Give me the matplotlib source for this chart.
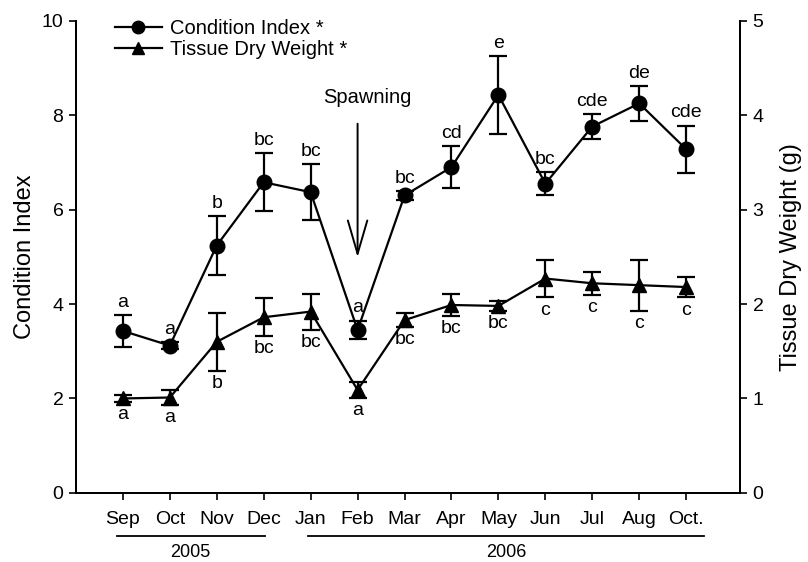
import matplotlib
matplotlib.use("Agg")
import matplotlib.pyplot as plt
from matplotlib.lines import Line2D

plt.rcParams['font.family'] = ['Liberation Sans', 'DejaVu Sans']

months = ["Sep", "Oct", "Nov", "Dec", "Jan", "Feb", "Mar", "Apr", "May", "Jun", "Jul", "Aug", "Oct."]

# Condition Index (left axis)
ci_mean = [3.43, 3.12, 5.24, 6.58, 6.37, 3.45, 6.30, 6.90, 8.43, 6.55, 7.76, 8.25, 7.28]
ci_err = [0.33, 0.08, 0.62, 0.61, 0.60, 0.20, 0.10, 0.45, 0.82, 0.25, 0.27, 0.37, 0.50]
ci_letters = ["a", "a", "b", "bc", "bc", "a", "bc", "cd", "e", "bc", "cde", "de", "cde"]

# Tissue Dry Weight (g) (right axis)
tdw_mean = [1.00, 1.01, 1.60, 1.86, 1.92, 1.09, 1.83, 1.99, 1.98, 2.27, 2.22, 2.20, 2.18]
tdw_err = [0.04, 0.08, 0.31, 0.20, 0.19, 0.08, 0.07, 0.12, 0.05, 0.20, 0.12, 0.27, 0.11]
tdw_letters = ["a", "a", "b", "bc", "bc", "a", "bc", "bc", "bc", "c", "c", "c", "c"]

years = ["2005", "2006"]
year_spans = [(-0.13, 3.02), (3.94, 12.38)]

fig = plt.figure(figsize=(8.08, 5.62), dpi=100)
ax = fig.add_axes([0.094, 0.123, 0.822, 0.840])
ax2 = ax.twinx()

x = list(range(len(months)))
fs = 14

ax.errorbar(x, ci_mean, yerr=ci_err, color="black", marker="o", markersize=10.5,
            lw=1.6, capsize=6.5, capthick=1.6, elinewidth=1.6)
ax2.errorbar(x, tdw_mean, yerr=tdw_err, color="black", marker="^", markersize=9.5,
             lw=1.6, capsize=6.5, capthick=1.6, elinewidth=1.6)

for i in x:
    ax.annotate(ci_letters[i], (i, ci_mean[i] + ci_err[i]), xytext=(0, 3),
                textcoords="offset points", ha="center", va="bottom", fontsize=fs)
    ax2.annotate(tdw_letters[i], (i, tdw_mean[i] - tdw_err[i]), xytext=(0, -3),
                 textcoords="offset points", ha="center", va="top", fontsize=fs)

# spawning arrow
ax.annotate("", xy=(5, 4.99), xytext=(5, 7.82),
            arrowprops=dict(arrowstyle="->,head_length=2.4,head_width=0.7", lw=1.4,
                            color="black", shrinkA=0, shrinkB=0))
ax.text(5.2, 8.37, "Spawning", ha="center", va="center", fontsize=14.5)

ax.set_xlim(-1.0, 13.15)
ax.set_ylim(0, 10)
ax2.set_ylim(0, 5)
ax.set_yticks([0, 2, 4, 6, 8, 10])
ax2.set_yticks([0, 1, 2, 3, 4, 5])
ax.set_xticks(x)
ax.set_xticklabels(months)

for a in (ax, ax2):
    a.spines["top"].set_visible(False)
    for s in a.spines.values():
        s.set_linewidth(1.4)
    a.tick_params(direction="out", length=5, width=1.2, labelsize=fs, pad=4)
ax.tick_params(axis="x", pad=8)

ax.set_ylabel("Condition Index", fontsize=17, labelpad=4)
ax2.set_ylabel("Tissue Dry Weight (g)", fontsize=17, labelpad=12)

# year lines under month labels
for yr, (x0, x1) in zip(years, year_spans):
    ax.plot([x0, x1], [-0.92, -0.92], color="black", lw=1.3, clip_on=False)
    ax.text((x0 + x1) / 2, -1.27, yr, ha="center", va="center", fontsize=13)

handles = [
    Line2D([], [], color="black", marker="o", markersize=9, lw=1.6),
    Line2D([], [], color="black", marker="^", markersize=8, lw=1.6),
]
ax.legend(handles, ["Condition Index *", "Tissue Dry Weight *"], loc="upper left",
          bbox_to_anchor=(0.047, 1.02), frameon=False, fontsize=14.5,
          handlelength=2.3, handletextpad=0.4, labelspacing=0.1, borderaxespad=0)

fig.savefig("out.png", dpi=100)
